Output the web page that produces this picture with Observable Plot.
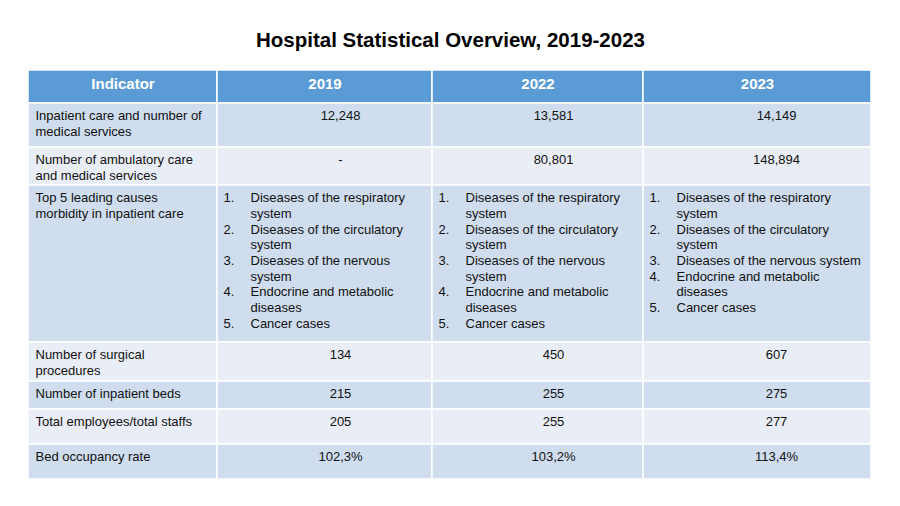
<!DOCTYPE html>
<html><head><meta charset="utf-8">
<script src="https://cdn.jsdelivr.net/npm/d3@7"></script>
<script src="https://cdn.jsdelivr.net/npm/@observablehq/plot@0.6"></script>
<style>body{margin:0;background:#fff}</style>
</head><body><div id="chart"></div>
<script>
// ---- data ----
const title = "Hospital Statistical Overview, 2019-2023";
const headers = ["Indicator", "2019", "2022", "2023"];
const indicators = [
  "Inpatient care and number of\nmedical services",
  "Number of ambulatory care\nand medical services",
  "Top 5 leading causes\nmorbidity in inpatient care",
  "Number of surgical\nprocedures",
  "Number of inpatient beds",
  "Total employees/total staffs",
  "Bed occupancy rate"
];
const values2019 = ["12,248", "-", null, "134", "215", "205", "102,3%"];
const values2022 = ["13,581", "80,801", null, "450", "255", "255", "103,2%"];
const values2023 = ["14,149", "148,894", null, "607", "275", "277", "113,4%"];
const causes2019 = ["Diseases of the respiratory\nsystem", "Diseases of the circulatory\nsystem", "Diseases of the nervous\nsystem", "Endocrine and metabolic\ndiseases", "Cancer cases"];
const causes2022 = ["Diseases of the respiratory\nsystem", "Diseases of the circulatory\nsystem", "Diseases of the nervous\nsystem", "Endocrine and metabolic\ndiseases", "Cancer cases"];
const causes2023 = ["Diseases of the respiratory\nsystem", "Diseases of the circulatory\nsystem", "Diseases of the nervous system", "Endocrine and metabolic\ndiseases", "Cancer cases"];
const causesRow = 2; // index of the list row

// ---- layout / style ----
const W = 900, H = 506;
const colEdges = [28, 217, 432, 643, 871];
const valueCenters = [null, 340, 553, 776];
const tableTop = 70;
const rowHeights = [33, 44, 38, 157, 39, 28, 35, 35];
const rowTops = [tableTop];
rowHeights.forEach(h => rowTops.push(rowTops[rowTops.length - 1] + h));
const headerFill = "#5B9BD5", darkFill = "#CFDDEE", lightFill = "#E9EDF6";
const fontFamily = "'Liberation Sans', Arial, sans-serif";
const bodySize = 13, lineStep = 15.7;
const lh = lineStep / bodySize;
const textPad = 5.5;

const valueCols = [values2019, values2022, values2023];
const causeCols = [causes2019, causes2022, causes2023];

// cells
const cells = [];
for (let r = 0; r < rowHeights.length; r++) {
  for (let c = 0; c < 4; c++) {
    cells.push({
      x1: colEdges[c], x2: colEdges[c + 1], y1: rowTops[r], y2: rowTops[r + 1],
      fill: r === 0 ? headerFill : (r % 2 === 1 ? darkFill : lightFill)
    });
  }
}
const headerTexts = headers.map((t, c) => ({t, x: (colEdges[c] + colEdges[c + 1]) / 2, y: (rowTops[0] + rowTops[1]) / 2 - 2.5}));
const indicatorTexts = indicators.map((t, i) => ({t, x: colEdges[0] + 7, y: rowTops[i + 1] + textPad}));
const valueTexts = [];
valueCols.forEach((vals, k) => vals.forEach((v, i) => {
  if (v != null) valueTexts.push({t: v, x: valueCenters[k + 1], y: rowTops[i + 1] + textPad});
}));
const numTexts = [], itemTexts = [];
causeCols.forEach((items, k) => {
  let line = 0;
  items.forEach((t, j) => {
    const y = rowTops[causesRow + 1] + textPad + line * lineStep;
    numTexts.push({t: (j + 1) + ".", x: colEdges[k + 1] + 6, y});
    itemTexts.push({t, x: colEdges[k + 1] + 33, y});
    line += t.split("\n").length;
  });
});

const common = {x: "x", y: "y", text: "t", fontSize: bodySize, fill: "#111", lineAnchor: "top", lineHeight: lh};

const chart = Plot.plot({
  width: W, height: H,
  margin: 0,
  x: {domain: [0, W], range: [0, W], axis: null},
  y: {domain: [0, H], range: [0, H], axis: null},
  color: {type: "identity"},
  style: {fontFamily, background: "#fff"},
  marks: [
    Plot.rect(cells, {x1: "x1", x2: "x2", y1: "y1", y2: "y2", fill: "fill", stroke: "#fff", strokeWidth: 1.5}),
    Plot.text([title], {x: () => W / 2, y: () => 40, text: d => d, fontSize: 20.5, fontWeight: "bold", fill: "#000", lineAnchor: "middle"}),
    Plot.text(headerTexts, {x: "x", y: "y", text: "t", fontSize: 15, fontWeight: "bold", fill: "#fff", lineAnchor: "middle"}),
    Plot.text(indicatorTexts, {...common, textAnchor: "start"}),
    Plot.text(valueTexts, {...common, textAnchor: "middle"}),
    Plot.text(numTexts, {...common, textAnchor: "start"}),
    Plot.text(itemTexts, {...common, textAnchor: "start"})
  ]
});
document.getElementById("chart").appendChild(chart);
</script>
</body></html>
